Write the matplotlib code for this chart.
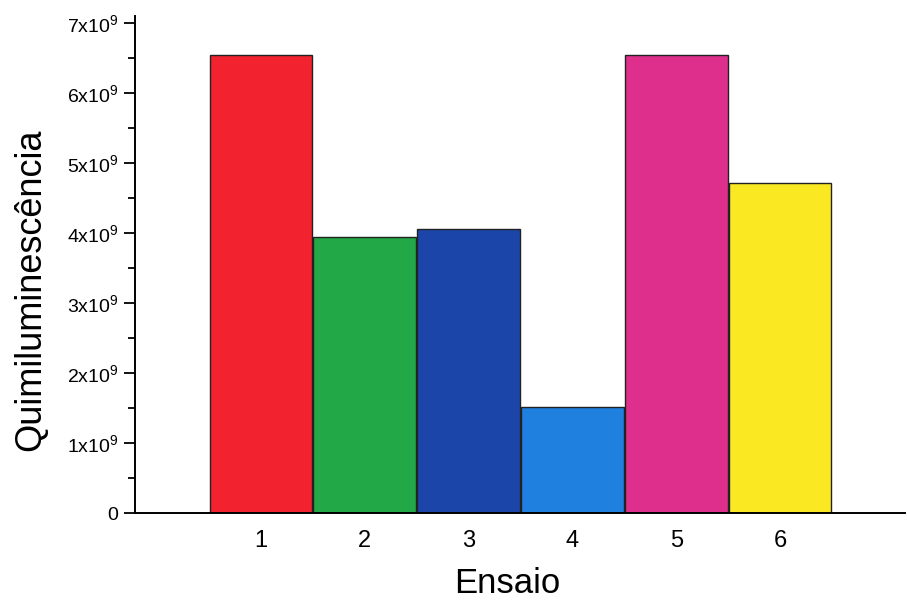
import matplotlib
matplotlib.use("Agg")
import matplotlib.pyplot as plt
from matplotlib.ticker import FuncFormatter, MultipleLocator

# -- data
ensaio = [1, 2, 3, 4, 5, 6]
quimi = [6.54e9, 3.94e9, 4.06e9, 1.51e9, 6.54e9, 4.71e9]
cores = ['#f2222e', '#23a848', '#1b45a8', '#1f80e0', '#df2f8c', '#f9e822']

plt.rcParams['font.family'] = ['Liberation Sans', 'DejaVu Sans']

fig = plt.figure(figsize=(9.07, 6.02), dpi=100)
ax = fig.add_axes([0.1488, 0.1478, 0.849, 0.8256])

ax.bar(ensaio, quimi, width=0.985, color=cores, edgecolor='#222222', linewidth=1.0)

ax.set_xlim(-0.21, 7.2)
ax.set_ylim(0, 7.1e9)

def fmtY(v, pos):
    n = int(round(v / 1e9))
    if n == 0:
        return '0'
    return r'$\mathregular{%dx10^9}$' % n

ax.yaxis.set_major_locator(MultipleLocator(1e9))
ax.yaxis.set_minor_locator(MultipleLocator(0.5e9))
ax.yaxis.set_major_formatter(FuncFormatter(fmtY))
ax.set_xticks(ensaio)
ax.set_xticklabels([str(e) for e in ensaio])

ax.tick_params(axis='y', which='major', direction='out', length=8, width=1.3,
               labelsize=14, pad=4)
ax.tick_params(axis='y', which='minor', direction='out', length=5, width=1.3)
ax.tick_params(axis='x', length=0, labelsize=17, pad=12)

for s in ['top', 'right']:
    ax.spines[s].set_visible(False)
for s in ['left', 'bottom']:
    ax.spines[s].set_linewidth(1.4)

ax.set_ylabel('Quimiluminescência', fontsize=26)
ax.yaxis.set_label_coords(-0.113, 0.45)
ax.set_xlabel('Ensaio', fontsize=25)
ax.xaxis.set_label_coords(0.484, -0.108)

fig.savefig('out.png', dpi=100)
